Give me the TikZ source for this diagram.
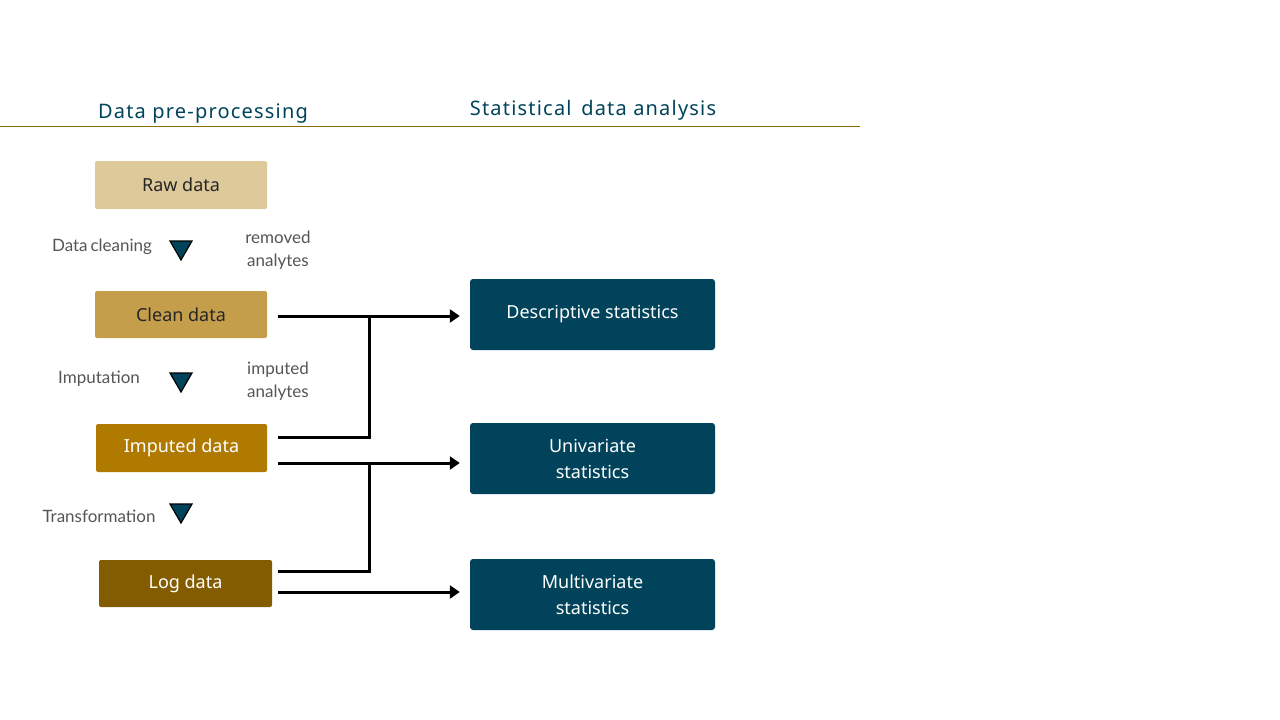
\documentclass[tikz,border=0pt]{standalone}
\usepackage{fontspec}
\setmainfont{Lato}
\newfontfamily\boxfont{Noto Sans}
\newfontfamily\headfont[LetterSpace=6]{Noto Sans}
\usetikzlibrary{arrows.meta}
\definecolor{teal}{HTML}{00435A}
\definecolor{rawc}{HTML}{DDC99A}
\definecolor{cleanc}{HTML}{C49E4B}
\definecolor{impc}{HTML}{B07A00}
\definecolor{logc}{HTML}{845C00}
\definecolor{rulec}{HTML}{8B6B00}
\definecolor{labc}{HTML}{555555}
\begin{document}
\begin{tikzpicture}[x=1pt,y=-1pt,
  databox/.style={rounded corners=2pt,inner sep=0pt,font=\boxfont\fontsize{18}{20}\selectfont},
  statbox/.style={rounded corners=3pt,fill=teal,text=white,inner sep=0pt,align=center,font=\boxfont\fontsize{18}{26}\selectfont,minimum width=245pt,minimum height=71pt},
  lab/.style={text=labc,font=\fontsize{17}{23}\selectfont,align=center},
  tri/.style={fill=teal,draw=black,line width=1.2pt,line join=miter},
  conn/.style={line width=3pt,-{Triangle[length=10pt,width=13pt]}},
  seg/.style={line width=3pt}
]
\useasboundingbox (0,0) rectangle (1280,720);
\draw[rulec,line width=0.9pt] (0,126) -- (860,126);
\node[text=teal,font=\headfont\fontsize{20}{24}\selectfont] (h1) at (203,114) {Data pre-processing};
\node[text=teal,font=\headfont\fontsize{20}{24}\selectfont] (h2) at (593,110) {Statistical\, data analysis};

\node[databox,fill=rawc,minimum width=172pt,minimum height=48pt,text=black!85] (raw) at (181,185) {Raw data};
\node[databox,fill=cleanc,minimum width=172pt,minimum height=47pt,text=black!85] (clean) at (181,314.5) {Clean data};
\node[databox,fill=impc,minimum width=171pt,minimum height=48pt,text=white] (imp) at (181.5,448) {Imputed data};
\node[databox,fill=logc,minimum width=173pt,minimum height=47pt,text=white] (log) at (185.5,583.5) {Log data};

\draw[tri] (170,241) -- (192,241) -- (181,260) -- cycle;
\draw[tri] (170,373) -- (192,373) -- (181,392) -- cycle;
\draw[tri] (170,504) -- (192,504) -- (181,523) -- cycle;

\node[lab] (l1) at (102,247) {Data\,cleaning};
\node[lab] (l2) at (278,250) {removed\\analytes};
\node[lab] (l3) at (99,379) {Imputation};
\node[lab] (l4) at (278,381) {imputed\\analytes};
\node[lab] (l5) at (99,516) {Transformation};

\node[statbox] (desc) at (592.5,314.5) {Descriptive statistics};
\node[statbox] (uni) at (592.5,458.5) {Univariate\\statistics};
\node[statbox] (multi) at (592.5,594.5) {Multivariate\\statistics};

\coordinate (j1) at (369,316);
\coordinate (j2) at (369,463);
\draw[conn] ([xshift=11pt,yshift=-1.5pt]clean.east) -- ([xshift=-10pt,yshift=-1.5pt]desc.west);
\draw[seg] ([xshift=11pt,yshift=11pt]imp.east) -| (j1);
\draw[conn] ([xshift=11pt,yshift=-15pt]imp.east) -- ([xshift=-10pt,yshift=-4.5pt]uni.west);
\draw[seg] ([xshift=6pt,yshift=12.5pt]log.east) -| (j2);
\draw[conn] ([xshift=6pt,yshift=-8.5pt]log.east) -- ([xshift=-10pt,yshift=2.5pt]multi.west);
\end{tikzpicture}
\end{document}
